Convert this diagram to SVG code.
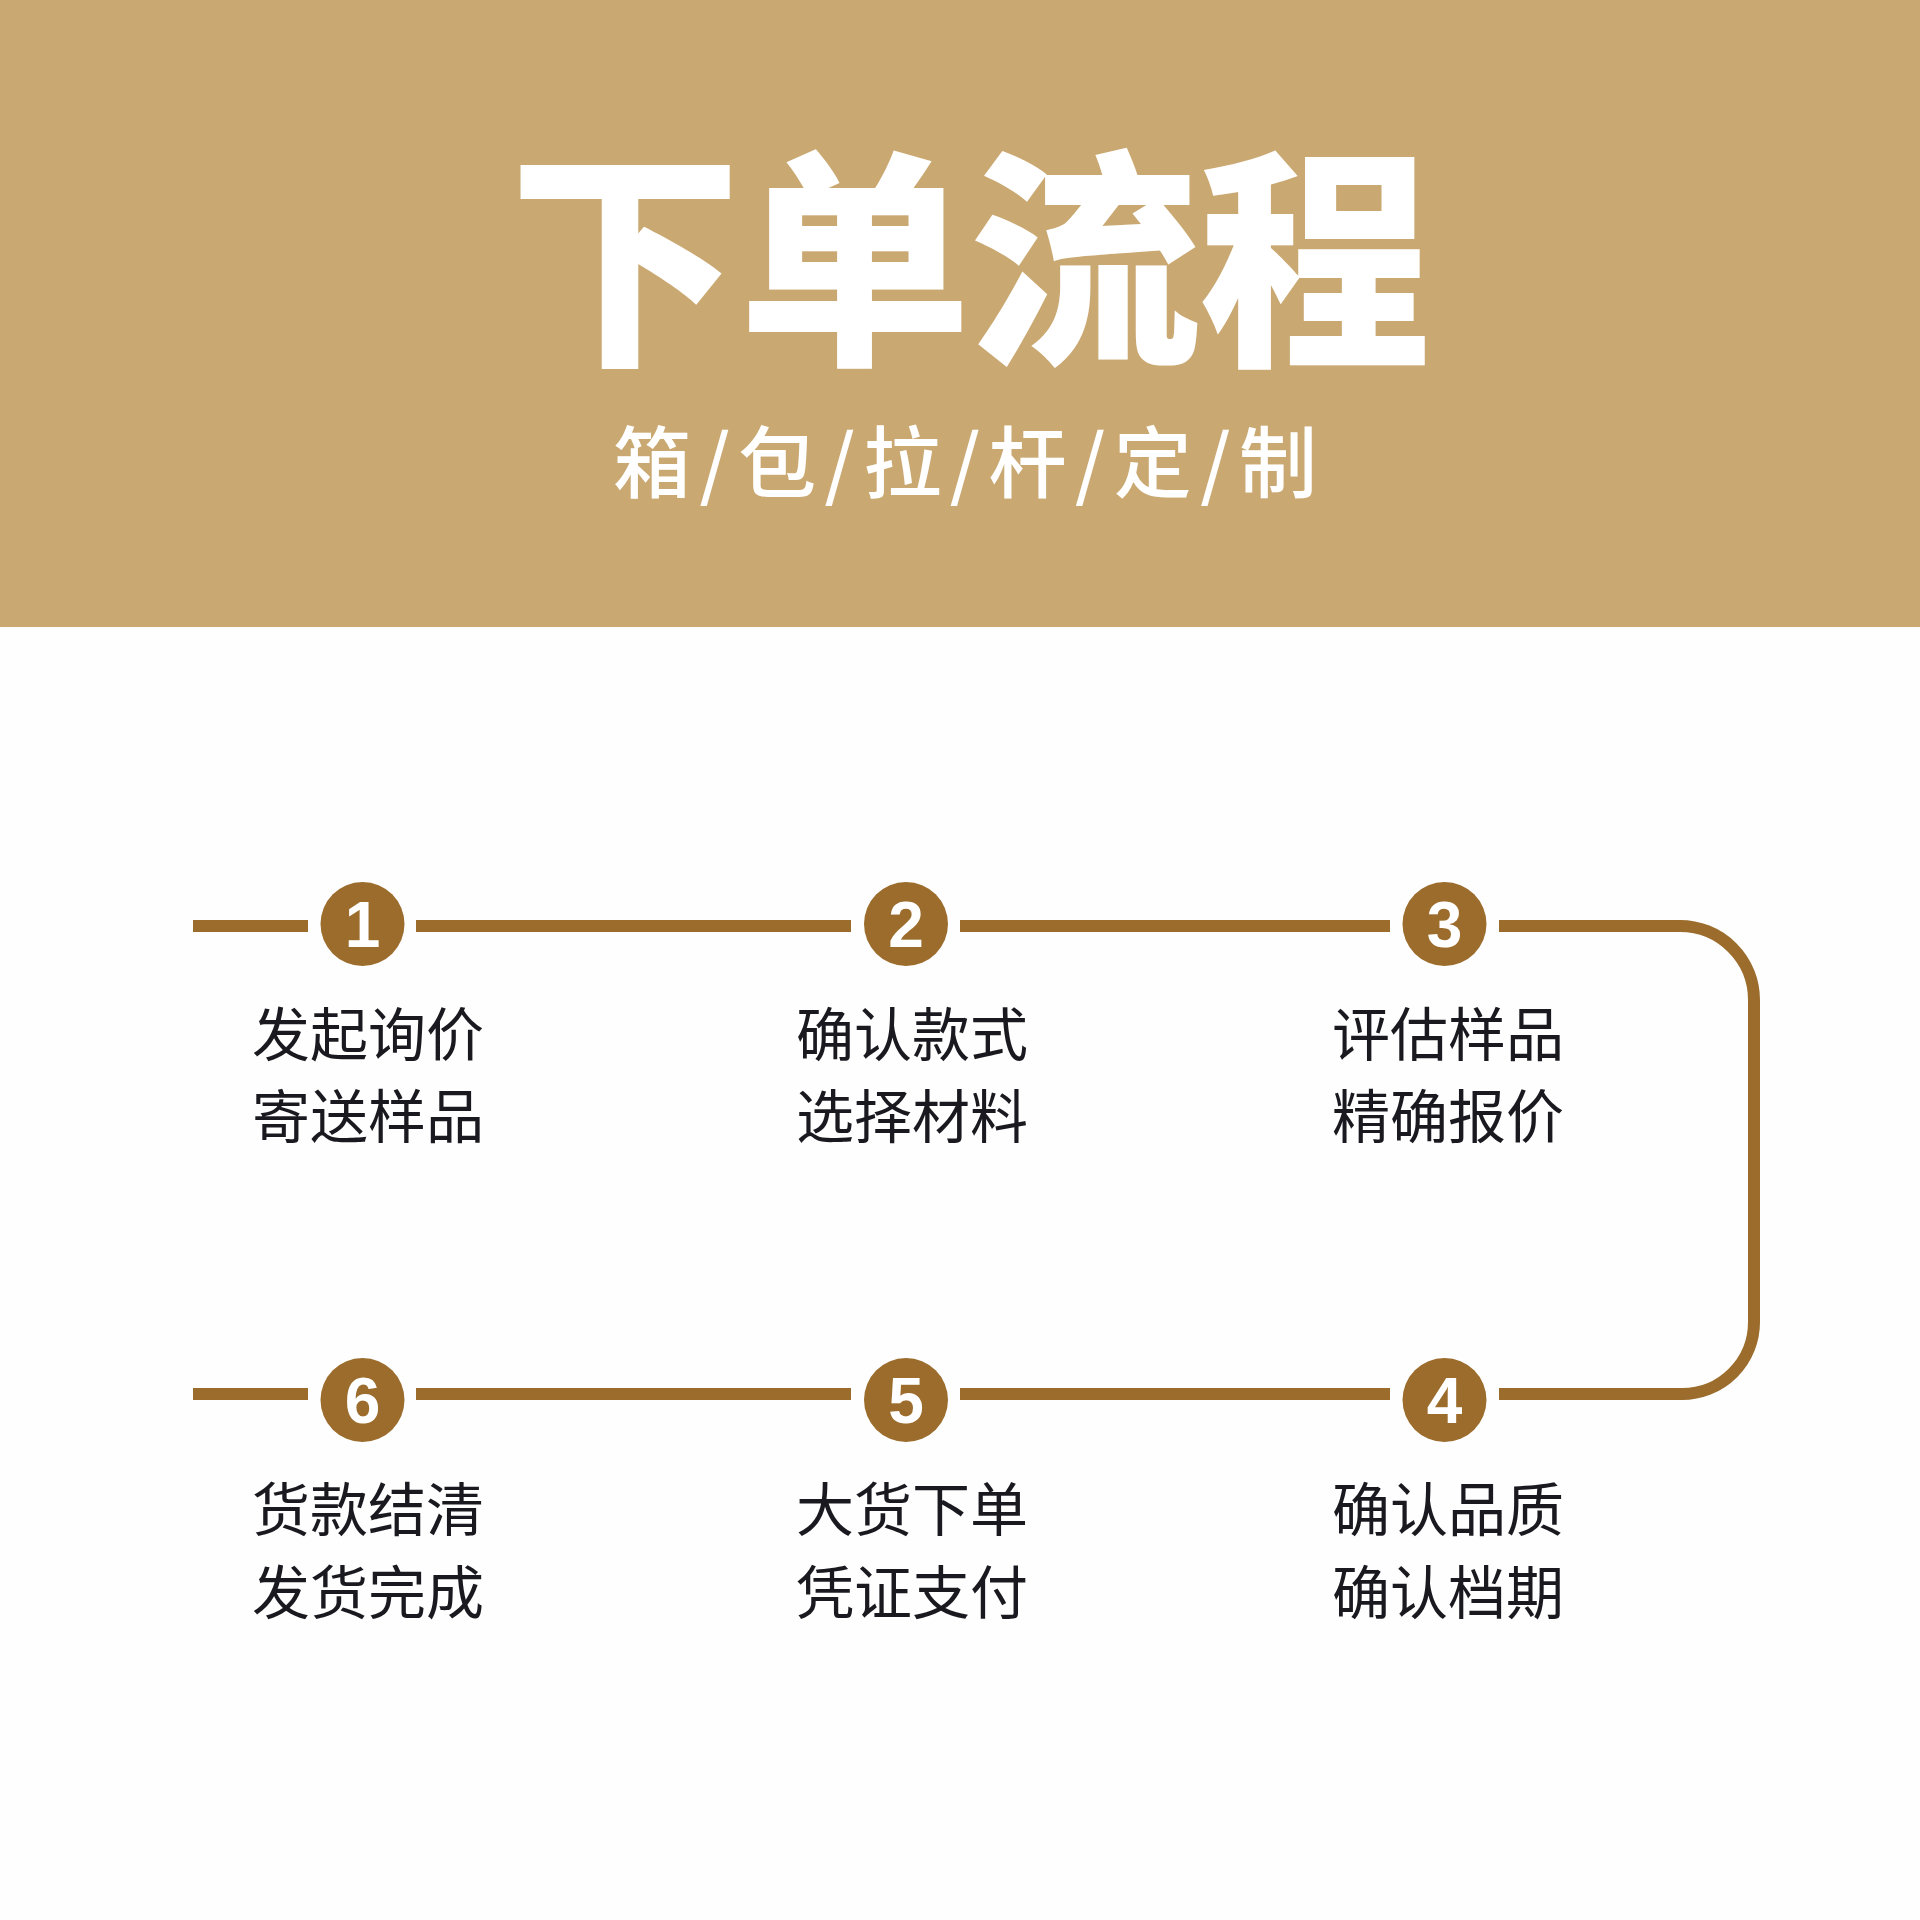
<svg xmlns="http://www.w3.org/2000/svg" width="1920" height="1920" viewBox="0 0 1920 1920">
<style>
.step{font-family:"Noto Sans CJK SC","Noto Sans",sans-serif;font-size:58px;fill:#19191f;font-weight:400}
.num{font-family:"Liberation Sans","DejaVu Sans",sans-serif;font-size:64px;font-weight:700;fill:#ffffff;text-anchor:middle}
.dot{fill:#9b6c2b}
.ln{stroke:#9b6c2b;stroke-width:12;fill:none}
</style>
<rect x="0" y="0" width="1920" height="1920" fill="#fefefe"/>
<g id="header">
<rect x="0" y="0" width="1920" height="627" fill="#caa872"/>
<text x="969" y="347" text-anchor="middle" font-family="Noto Sans CJK SC,sans-serif" font-weight="900" font-size="232" fill="#ffffff" letter-spacing="-2">下单流程</text>
<text x="613" y="492" font-family="Noto Sans CJK SC,sans-serif" font-weight="500" font-size="78" fill="#ffffff" textLength="704" lengthAdjust="spacing">箱/包/拉/杆/定/制</text>
</g>
<g id="connectors">
<line class="ln" x1="193" y1="926" x2="308" y2="926"/>
<line class="ln" x1="416" y1="926" x2="851" y2="926"/>
<line class="ln" x1="960" y1="926" x2="1390" y2="926"/>
<path class="ln" d="M1499 926 H1680 A74 74 0 0 1 1754 1000 V1322 A72 72 0 0 1 1682 1394 H1499"/>
<line class="ln" x1="1390" y1="1394" x2="960" y2="1394"/>
<line class="ln" x1="851" y1="1394" x2="416" y2="1394"/>
<line class="ln" x1="308" y1="1394" x2="193" y2="1394"/>
</g>
<g id="step1">
<circle class="dot" cx="362.5" cy="924" r="42"/>
<text class="num" x="362.5" y="947">1</text>
<text class="step" x="252" y="1056">发起询价</text>
<text class="step" x="252" y="1138">寄送样品</text>
</g>
<g id="step2">
<circle class="dot" cx="906" cy="924" r="42"/>
<text class="num" x="906" y="947">2</text>
<text class="step" x="796" y="1056">确认款式</text>
<text class="step" x="796" y="1138">选择材料</text>
</g>
<g id="step3">
<circle class="dot" cx="1444.5" cy="924" r="42"/>
<text class="num" x="1444.5" y="947">3</text>
<text class="step" x="1332" y="1056">评估样品</text>
<text class="step" x="1332" y="1138">精确报价</text>
</g>
<g id="step4">
<circle class="dot" cx="1444.5" cy="1400" r="42"/>
<text class="num" x="1444.5" y="1423">4</text>
<text class="step" x="1332" y="1531">确认品质</text>
<text class="step" x="1332" y="1614">确认档期</text>
</g>
<g id="step5">
<circle class="dot" cx="906" cy="1400" r="42"/>
<text class="num" x="906" y="1423">5</text>
<text class="step" x="796" y="1531">大货下单</text>
<text class="step" x="796" y="1614">凭证支付</text>
</g>
<g id="step6">
<circle class="dot" cx="362.5" cy="1400" r="42"/>
<text class="num" x="362.5" y="1423">6</text>
<text class="step" x="252" y="1531">货款结清</text>
<text class="step" x="252" y="1614">发货完成</text>
</g>
</svg>
